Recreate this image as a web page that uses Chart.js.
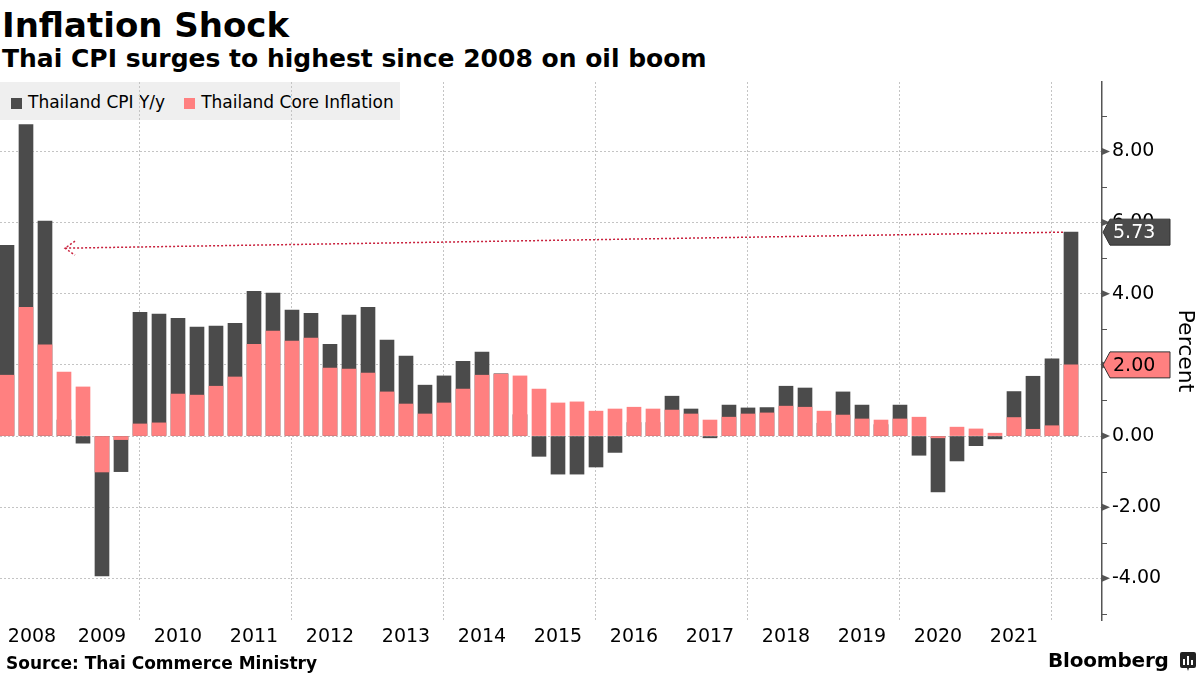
<!DOCTYPE html>
<html lang="en">
<head>
<meta charset="utf-8">
<title>Inflation Shock</title>
<script src="https://cdn.jsdelivr.net/npm/chart.js@4.4.1/dist/chart.umd.min.js"></script>
<style>
    body {
        margin: 0;
        width: 1200px;
        height: 675px;
        position: relative;
        overflow: hidden;
        background: #fff;
        font-family: "DejaVu Sans", sans-serif;
        color: #000;
    }
    .title { position: absolute; left: 2px; top: 8px; font-size: 34px; line-height: 34px; font-weight: bold; white-space: nowrap; }
    .subtitle { position: absolute; left: 2px; top: 46px; font-size: 25px; line-height: 25px; font-weight: bold; white-space: nowrap; }
    .legend {
        position: absolute; left: 0; top: 82px; width: 400px; height: 38px;
        background: #efefef; font-size: 17px; line-height: 40px; white-space: nowrap;
    }
    .legend span.item { margin-left: 11px; }
    .legend i { display: inline-block; width: 11px; height: 11px; margin-right: 6px; vertical-align: -1px; }
    #chart { position: absolute; left: 0; top: 0; }
    .source { position: absolute; left: 6px; top: 655px; font-size: 17px; line-height: 17px; font-weight: bold; white-space: nowrap; }
    .brand { position: absolute; left: 1048px; top: 650px; font-size: 20px; line-height: 20px; font-weight: bold; letter-spacing: -0.2px; }
    .logo { position: absolute; left: 1180px; top: 652px; }
</style>
</head>
<body>
<div class="title">Inflation Shock</div>
<div class="subtitle">Thai CPI surges to highest since 2008 on oil boom</div>
<div class="legend" id="legend"></div>
<canvas id="chart" width="1200" height="675"></canvas>
<div class="source">Source: Thai Commerce Ministry</div>
<div class="brand">Bloomberg</div>
<svg class="logo" width="16" height="20" viewBox="0 0 16 20">
    <path d="M2 0h12a2 2 0 0 1 2 2v12a2 2 0 0 1-2 2H9l-1 3-1-3H2a2 2 0 0 1-2-2V2a2 2 0 0 1 2-2z" fill="#222"/>
    <rect x="3" y="7" width="2" height="6" fill="#fff"/>
    <rect x="7" y="4" width="2" height="9" fill="#fff"/>
    <rect x="11" y="8" width="2" height="5" fill="#fff"/>
</svg>

<script>
    // quarter-end months
    const quarters = [
        '2008-03', '2008-06', '2008-09', '2008-12',
        '2009-03', '2009-06', '2009-09', '2009-12',
        '2010-03', '2010-06', '2010-09', '2010-12',
        '2011-03', '2011-06', '2011-09', '2011-12',
        '2012-03', '2012-06', '2012-09', '2012-12',
        '2013-03', '2013-06', '2013-09', '2013-12',
        '2014-03', '2014-06', '2014-09', '2014-12',
        '2015-03', '2015-06', '2015-09', '2015-12',
        '2016-03', '2016-06', '2016-09', '2016-12',
        '2017-03', '2017-06', '2017-09', '2017-12',
        '2018-03', '2018-06', '2018-09', '2018-12',
        '2019-03', '2019-06', '2019-09', '2019-12',
        '2020-03', '2020-06', '2020-09', '2020-12',
        '2021-03', '2021-06', '2021-09', '2021-12',
        '2022-03'
    ];

    const cpi = [
        5.36, 8.75, 6.04, 0.45,
        -0.20, -3.93, -1.00, 3.48,
        3.43, 3.31, 3.06, 3.09,
        3.17, 4.07, 4.02, 3.54,
        3.45, 2.58, 3.40, 3.62,
        2.70, 2.25, 1.43, 1.69,
        2.10, 2.36, 1.75, 0.60,
        -0.57, -1.07, -1.07, -0.87,
        -0.46, 0.38, 0.38, 1.12,
        0.76, -0.05, 0.87, 0.79,
        0.80, 1.40, 1.35, 0.36,
        1.24, 0.87, 0.32, 0.87,
        -0.54, -1.57, -0.70, -0.27,
        -0.08, 1.25, 1.68, 2.17,
        5.73
    ];

    const core = [
        1.71, 3.62, 2.56, 1.80,
        1.38, -1.01, -0.10, 0.34,
        0.37, 1.18, 1.15, 1.40,
        1.66, 2.58, 2.95, 2.67,
        2.75, 1.91, 1.88, 1.77,
        1.24, 0.90, 0.62, 0.93,
        1.32, 1.71, 1.74, 1.69,
        1.32, 0.93, 0.96, 0.70,
        0.76, 0.81, 0.76, 0.73,
        0.62, 0.45, 0.53, 0.62,
        0.65, 0.84, 0.81, 0.70,
        0.59, 0.48, 0.45, 0.48,
        0.53, -0.05, 0.25, 0.20,
        0.08, 0.52, 0.19, 0.29,
        2.00
    ];

    const yearLabels = ['2008', '2009', '2010', '2011', '2012', '2013', '2014',
                        '2015', '2016', '2017', '2018', '2019', '2020', '2021'];
    const majorTicks = [-4, -2, 0, 2, 4, 6, 8];
    const minorTicks = [-5, -3, -1, 1, 3, 5, 7, 9];

    const CPI_COLOR = '#4b4b4b';
    const CORE_COLOR = '#ff8080';
    const X_MIN = 2008.158, X_MAX = 2022.658;

    // "2008-03" -> 2008.25
    function toX(q) {
        const [y, m] = q.split('-').map(Number);
        return y + m / 12;
    }

    document.getElementById('legend').innerHTML =
        '<span class="item"><i style="background:' + CPI_COLOR + '"></i>Thailand CPI Y/y</span>' +
        '<span class="item" style="margin-left:19px"><i style="background:' + CORE_COLOR + '"></i>Thailand Core Inflation</span>';

    // axis markers, callout boxes and the arrow
    const extras = {
        id: 'extras',
        afterDatasetsDraw(chart) {
            const {ctx, scales: {x, y}} = chart;
            const last = quarters.length - 1;
            const x1 = x.getPixelForValue(toX(quarters[last])) - 8;
            const y1 = y.getPixelForValue(cpi[last]);
            const x2 = x.getPixelForValue(toX('2008-12')) + 1;
            const y2 = y.getPixelForValue(5.28);
            ctx.save();
            ctx.strokeStyle = '#c8203c';
            ctx.lineWidth = 1.5;
            ctx.setLineDash([2, 2]);
            ctx.beginPath();
            ctx.moveTo(x1, y1);
            ctx.lineTo(x2, y2);
            ctx.stroke();
            ctx.beginPath();
            ctx.moveTo(x2 + 10, y2 - 7);
            ctx.lineTo(x2, y2);
            ctx.lineTo(x2 + 10, y2 + 7);
            ctx.stroke();
            ctx.restore();
        },
        afterDraw(chart) {
            const {ctx, chartArea, scales: {y}} = chart;
            const ax = chartArea.right;
            ctx.save();
            ctx.fillStyle = '#555';
            ctx.strokeStyle = '#555';
            ctx.lineWidth = 1;
            majorTicks.forEach(v => {
                const py = y.getPixelForValue(v);
                ctx.beginPath();
                ctx.moveTo(ax, py - 3.5);
                ctx.lineTo(ax + 8, py);
                ctx.lineTo(ax, py + 3.5);
                ctx.closePath();
                ctx.fill();
            });
            minorTicks.forEach(v => {
                const py = Math.round(y.getPixelForValue(v)) + 0.5;
                ctx.beginPath();
                ctx.moveTo(ax, py);
                ctx.lineTo(ax + 5, py);
                ctx.stroke();
            });

            const last = quarters.length - 1;
            const callout = (val, fill, text) => {
                const py = y.getPixelForValue(val);
                const h = 26, left = ax + 8, right = ax + 68;
                ctx.beginPath();
                ctx.moveTo(ax + 1, py);
                ctx.lineTo(left, py - h / 2);
                ctx.lineTo(right, py - h / 2);
                ctx.lineTo(right, py + h / 2);
                ctx.lineTo(left, py + h / 2);
                ctx.closePath();
                ctx.fillStyle = fill;
                ctx.fill();
                ctx.strokeStyle = '#333';
                ctx.stroke();
                ctx.fillStyle = text;
                ctx.font = '19px "DejaVu Sans"';
                ctx.textBaseline = 'middle';
                ctx.textAlign = 'left';
                ctx.fillText(val.toFixed(2), ax + 11, py + 1);
            };
            callout(cpi[last], CPI_COLOR, '#fff');
            callout(core[last], CORE_COLOR, '#000');
            ctx.restore();
        }
    };

    const gridColor = '#c4c4c4';

    new Chart(document.getElementById('chart'), {
        type: 'bar',
        data: {
            datasets: [{
                label: 'Thailand CPI Y/y',
                data: quarters.map((q, i) => ({x: toX(q), y: cpi[i]})),
                backgroundColor: CPI_COLOR,
                order: 1
            }, {
                label: 'Thailand Core Inflation',
                data: quarters.map((q, i) => ({x: toX(q), y: core[i]})),
                backgroundColor: CORE_COLOR,
                order: 0
            }]
        },
        options: {
            responsive: false,
            animation: false,
            layout: {padding: {top: 82, left: 0, right: 0, bottom: 0}},
            datasets: {
                bar: {grouped: false, barThickness: 14, borderWidth: 0}
            },
            plugins: {
                legend: {display: false},
                tooltip: {enabled: false}
            },
            scales: {
                x: {
                    type: 'linear',
                    min: X_MIN,
                    max: X_MAX,
                    offset: false,
                    afterBuildTicks(scale) {
                        const ticks = [];
                        for (let yr = 2009; yr <= 2022; yr++) ticks.push({value: yr, label: ''});
                        yearLabels.forEach(lbl => {
                            const yr = Number(lbl);
                            const mid = (Math.max(yr, X_MIN) + Math.min(yr + 1, X_MAX)) / 2;
                            ticks.push({value: mid, label: lbl});
                        });
                        ticks.sort((a, b) => a.value - b.value);
                        scale.ticks = ticks;
                    },
                    afterFit(scale) { scale.height = 55; },
                    ticks: {
                        autoSkip: false,
                        maxRotation: 0,
                        padding: 6,
                        color: '#000',
                        font: {family: 'DejaVu Sans', size: 19},
                        callback: function (value, index, ticks) { return ticks[index].label; }
                    },
                    grid: {
                        offset: false,
                        drawTicks: false,
                        lineWidth: 1,
                        color: ctx => (ctx.tick && Number.isInteger(ctx.tick.value) && ctx.tick.value % 2 === 0) ? gridColor : 'transparent'
                    },
                    border: {display: false, dash: [2, 2]}
                },
                y: {
                    type: 'linear',
                    position: 'right',
                    min: -5.17,
                    max: 9.95,
                    afterBuildTicks(scale) {
                        scale.ticks = majorTicks.concat(minorTicks).sort((a, b) => a - b).map(v => ({value: v}));
                    },
                    afterFit(scale) { scale.width = 98; },
                    ticks: {
                        padding: 10,
                        color: '#000',
                        font: {family: 'DejaVu Sans', size: 19},
                        callback: v => majorTicks.includes(v) ? v.toFixed(2) : ''
                    },
                    grid: {
                        drawTicks: false,
                        lineWidth: 1,
                        color: ctx => (ctx.tick && majorTicks.includes(ctx.tick.value)) ? gridColor : 'transparent'
                    },
                    border: {display: true, color: '#555', width: 1.5, dash: [2, 2]},
                    title: {
                        display: true,
                        text: 'Percent',
                        color: '#000',
                        font: {family: 'DejaVu Sans', size: 22},
                        padding: {top: 2, bottom: 0}
                    }
                }
            }
        },
        plugins: [extras]
    });
</script>
</body>
</html>
